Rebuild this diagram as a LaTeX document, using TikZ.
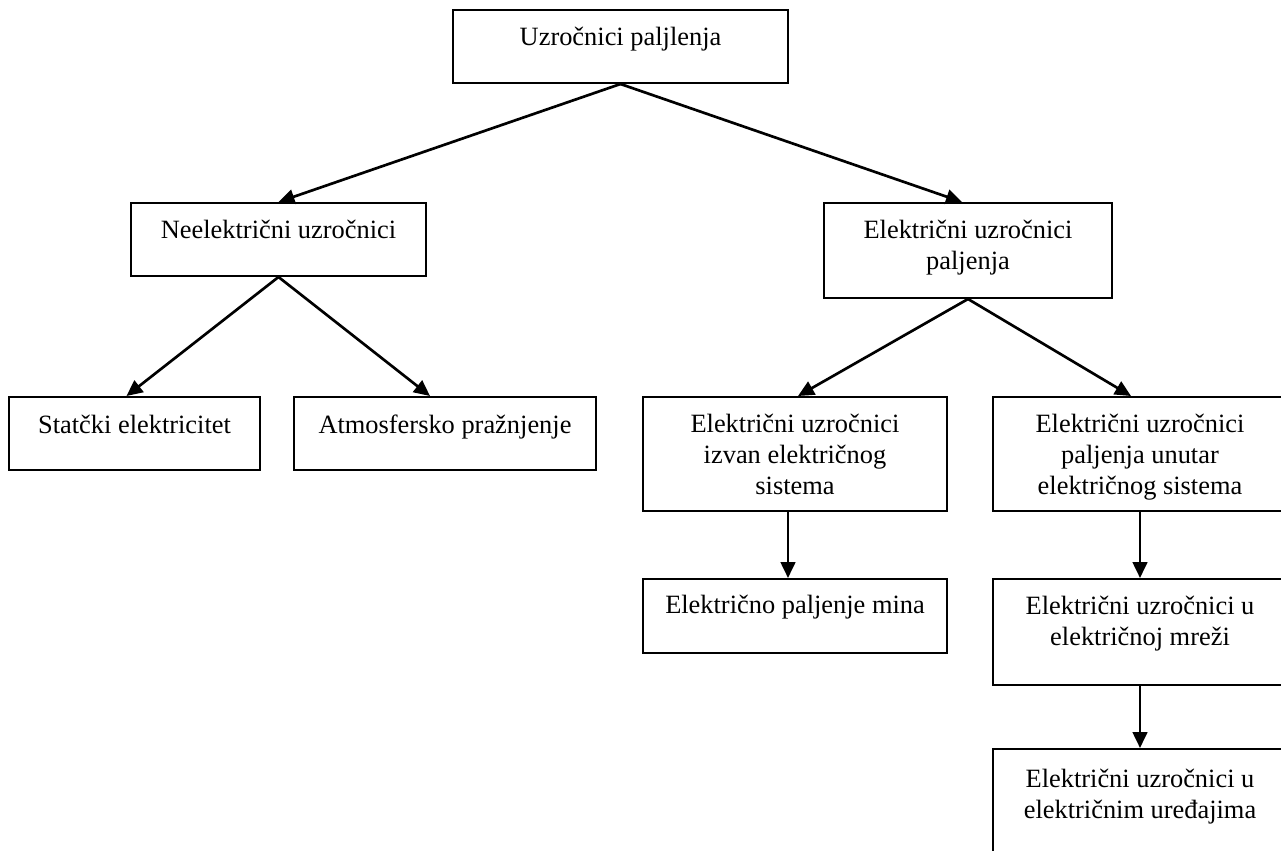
\documentclass[tikz,border=0pt]{standalone}
\usepackage{fontspec}
\setmainfont{Liberation Serif}
\usetikzlibrary{arrows.meta,calc}
\tikzset{
  box/.style={draw=black, line width=1.5pt, inner sep=0pt, fill=none},
  txt/.style={anchor=north, inner sep=0pt, align=center,
    font=\fontsize{19.8pt}{23.25pt}\selectfont},
  arr/.style={line width=2pt, -{Triangle[length=12pt,width=11pt]}},
}
\begin{document}
\begin{tikzpicture}[x=0.75pt,y=-0.75pt]
\useasboundingbox (0,0) rectangle (1281,850);
\fill[white] (0,0) rectangle (1281,850);
\clip (0,0) rectangle (1281,850);
% boxes
\node[box, minimum width=251.25pt, minimum height=54.75pt] (top) at (620.5,46.5) {};
\node[box, minimum width=221.25pt, minimum height=54.75pt] (neel) at (278.5,239.5) {};
\node[box, minimum width=216pt, minimum height=71.25pt] (elpal) at (968,250.5) {};
\node[box, minimum width=188.25pt, minimum height=54.75pt] (stat) at (134.5,433.5) {};
\node[box, minimum width=226.5pt, minimum height=54.75pt] (atm) at (445,433.5) {};
\node[box, minimum width=228pt, minimum height=85.5pt] (izvan) at (795,454) {};
\node[box, minimum width=220.5pt, minimum height=85.5pt] (unutar) at (1140,454) {};
\node[box, minimum width=228pt, minimum height=55.5pt] (mina) at (795,616) {};
\node[box, minimum width=220.5pt, minimum height=79.5pt] (mreza) at (1140,632) {};
\node[box, minimum width=220.5pt, minimum height=98.25pt] (uredj) at (1140,814.5) {};
% texts
\node[txt] (topT) at ($(top.north)+(0,15)$) {\strut Uzročnici paljlenja};
\node[txt] (neelT) at ($(neel.north)+(0,15)$) {\strut Neelektrični uzročnici};
\node[txt] (elpalT) at ($(elpal.north)+(0,15)$) {\strut Električni uzročnici\\paljenja};
\node[txt] (statT) at ($(stat.north)+(0,16)$) {\strut Statčki elektricitet};
\node[txt] (atmT) at ($(atm.north)+(0,16)$) {\strut Atmosfersko pražnjenje};
\node[txt] (izvanT) at ($(izvan.north)+(0,15)$) {\strut Električni uzročnici\\izvan električnog\\sistema};
\node[txt] (unutarT) at ($(unutar.north)+(0,15)$) {\strut Električni uzročnici\\paljenja unutar\\električnog sistema};
\node[txt] (minaT) at ($(mina.north)+(0,14)$) {\strut Električno paljenje mina};
\node[txt] (mrezaT) at ($(mreza.north)+(0,15)$) {\strut Električni uzročnici u\\električnoj mreži};
\node[txt] (uredjT) at ($(uredj.north)+(0,18)$) {\strut Električni uzročnici u\\električnim uređajima};
% connectors
\draw[arr] (top.south) -- (neel.north);
\draw[arr] (top.south) -- ($(elpal.north)+(-6,0)$);
\draw[arr] (neel.south) -- ($(stat.north)+(-8,0)$);
\draw[arr] (neel.south) -- ($(atm.north)+(-15,0)$);
\draw[arr] (elpal.south) -- ($(izvan.north)+(3,0)$);
\draw[arr] (elpal.south) -- ($(unutar.north)+(-9,0)$);
\draw[arr] ($(izvan.south)+(-7,0)$) -- ($(mina.north)+(-7,0)$);
\draw[arr] (unutar.south) -- (mreza.north);
\draw[arr] (mreza.south) -- (uredj.north);
\end{tikzpicture}
\end{document}
